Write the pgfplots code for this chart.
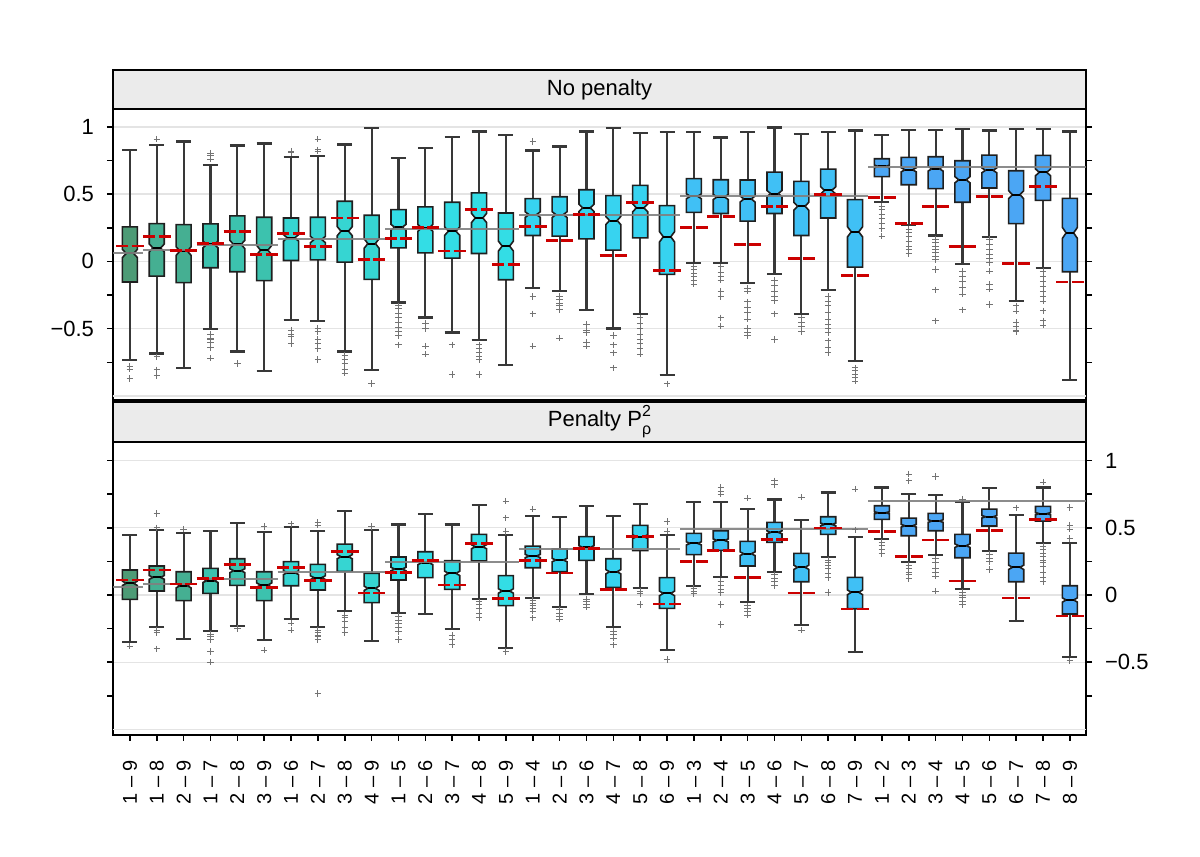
\documentclass[border=0pt]{standalone}
\usepackage{pgfplots}
\pgfplotsset{compat=1.18}
\usepgfplotslibrary{statistics}
\usepackage{fontspec}
\setmainfont{Liberation Sans}

\definecolor{c8}{HTML}{4D9B76}
\definecolor{c7}{HTML}{45AF92}
\definecolor{c6}{HTML}{3CC2AE}
\definecolor{c5}{HTML}{36D5D2}
\definecolor{c4}{HTML}{33DDE5}
\definecolor{c3}{HTML}{37D3F0}
\definecolor{c2}{HTML}{40C0F5}
\definecolor{c1}{HTML}{4BA6F4}
\definecolor{tred}{HTML}{CC0000}
\definecolor{gridc}{HTML}{E4E4E4}
\definecolor{stripc}{HTML}{EBEBEB}
\definecolor{gline}{HTML}{808080}

\pgfdeclareplotmark{tdash}{%
  \pgfpathmoveto{\pgfqpoint{-6.9pt}{0pt}}%
  \pgfpathlineto{\pgfqpoint{6.9pt}{0pt}}%
  \pgfusepathqstroke}

\pgfplotsset{
  boxplot/draw direction=y,
  boxplot/box extend=0.56,
  boxplot/whisker extend=0.56,
  boxplot/draw/box/.code={%
    \pgfmathsetmacro\qlo{\pgfplotsboxplotvalue{lower quartile}}%
    \pgfmathsetmacro\qhi{\pgfplotsboxplotvalue{upper quartile}}%
    \pgfmathsetmacro\qmed{\pgfplotsboxplotvalue{median}}%
    \pgfmathsetmacro\nlo{\qmed-0.075*(\qhi-\qlo)}%
    \pgfmathsetmacro\nhi{\qmed+0.075*(\qhi-\qlo)}%
    \filldraw[/pgfplots/boxplot/every box/.try]
      (boxplot box cs:\qlo,0) -- (boxplot box cs:\nlo,0) -- (boxplot box cs:\qmed,0.25)
      -- (boxplot box cs:\nhi,0) -- (boxplot box cs:\qhi,0) -- (boxplot box cs:\qhi,1)
      -- (boxplot box cs:\nhi,1) -- (boxplot box cs:\qmed,0.75) -- (boxplot box cs:\nlo,1)
      -- (boxplot box cs:\qlo,1) -- cycle;
  },
  boxplot/draw/median/.code={%
    \draw[/pgfplots/boxplot/every median/.try]
      (boxplot box cs:\pgfplotsboxplotvalue{median},0.25) --
      (boxplot box cs:\pgfplotsboxplotvalue{median},0.75);
  },
  bxs/.style={solid, draw=black!78, mark=+, mark size=1.6pt,
    mark options={draw=black!55, line width=0.45pt, solid},
    boxplot/every whisker/.style={line width=1.1pt, draw=black!78},
    boxplot/every box/.style={line width=0.8pt, draw=black!88},
    boxplot/every median/.style={line width=1pt, draw=black}},
  panel/.style={
    scale only axis, width=486.5pt,
    xmin=-0.63, xmax=35.6,
    axis line style={line width=1.3pt},
    tick align=outside, major tick length=3pt, minor tick length=3pt,
    every tick/.style={black, line width=0.8pt},
    ytick={-0.5,0,0.5,1}, yticklabels={−0.5,0,0.5,1},
    minor ytick={-0.75,-0.25,0.25,0.75},
    ytick pos=both,
    ymajorgrids, major grid style={gridc, line width=0.7pt},
    extra y ticks={-1}, extra y tick labels={},
    extra y tick style={major tick length=0pt, grid=major},
    yticklabel style={font=\fontsize{11}{13}\selectfont},
    clip=true,
  },
  glines/.style={gline, line width=1pt, opacity=0.9, forget plot},
  reds/.style={only marks, mark=tdash, color=tred,
    mark options={line width=1.4pt, dash pattern=on 6pt off 1.8pt}},
}

\newcommand{\bx}[8]{\addplot[bxs, fill=#2, boxplot prepared={draw position=#1,
  lower whisker=#3, lower quartile=#4, median=#5, upper quartile=#6, upper whisker=#7}]
  coordinates {#8};}

\begin{document}
\begin{tikzpicture}[x=1pt,y=1pt]
\path (0,0) rectangle (600,428.5);

% ---------------- top panel: No penalty ----------------
\begin{axis}[panel, at={(56.5pt,228.5pt)}, anchor=south west, height=145.5pt,
  ymin=-1.03, ymax=1.133, xtick=\empty, yticklabel pos=left,
  yticklabel style={xshift=-3pt}]
\bx{0}{c8}{-0.733}{-0.153}{0.059}{0.257}{0.83}{(0,-0.78)(0,-0.80)(0,-0.87)}
\bx{1}{c7}{-0.684}{-0.109}{0.10}{0.281}{0.867}{(0,0.909)(0,-0.71)(0,-0.805)(0,-0.85)}
\bx{2}{c7}{-0.793}{-0.158}{0.077}{0.274}{0.891}{}
\bx{3}{c6}{-0.504}{-0.047}{0.126}{0.279}{0.719}{(0,0.805)(0,0.785)(0,0.76)(0,-0.54)(0,-0.57)(0,-0.58)(0,-0.60)(0,-0.64)(0,-0.72)}
\bx{4}{c6}{-0.669}{-0.077}{0.126}{0.338}{0.862}{(0,-0.76)}
\bx{5}{c6}{-0.815}{-0.143}{0.084}{0.328}{0.877}{}
\bx{6}{c5}{-0.434}{0.007}{0.175}{0.323}{0.775}{(0,0.82)(0,0.81)(0,-0.51)(0,-0.54)(0,-0.56)(0,-0.61)}
\bx{7}{c5}{-0.442}{0.012}{0.163}{0.328}{0.785}{(0,0.91)(0,0.83)(0,0.82)(0,-0.50)(0,-0.52)(0,-0.58)(0,-0.61)(0,-0.65)(0,-0.73)}
\bx{8}{c5}{-0.669}{-0.005}{0.225}{0.447}{0.869}{(0,-0.70)(0,-0.73)(0,-0.76)(0,-0.80)(0,-0.83)}
\bx{9}{c5}{-0.807}{-0.133}{0.133}{0.343}{0.99}{(0,-0.906)}
\bx{10}{c4}{-0.306}{0.101}{0.254}{0.385}{0.768}{(0,-0.33)(0,-0.35)(0,-0.39)(0,-0.42)(0,-0.45)(0,-0.49)(0,-0.52)(0,-0.55)(0,-0.62)}
\bx{11}{c4}{-0.417}{0.064}{0.249}{0.405}{0.842}{(0,-0.46)(0,-0.50)(0,-0.63)(0,-0.69)}
\bx{12}{c4}{-0.528}{0.025}{0.225}{0.44}{0.923}{(0,-0.62)(0,-0.84)}
\bx{13}{c4}{-0.583}{0.059}{0.323}{0.509}{0.965}{(0,-0.62)(0,-0.65)(0,-0.68)(0,-0.71)(0,-0.73)(0,-0.84)}
\bx{14}{c4}{-0.770}{-0.136}{0.114}{0.36}{0.941}{}
\bx{15}{c3}{-0.195}{0.193}{0.348}{0.467}{0.825}{(0,0.89)(0,-0.26)(0,-0.39)(0,-0.63)}
\bx{16}{c3}{-0.22}{0.188}{0.348}{0.481}{0.854}{(0,-0.26)(0,-0.28)(0,-0.31)(0,-0.33)(0,-0.36)(0,-0.57)}
\bx{17}{c3}{-0.36}{0.168}{0.398}{0.533}{0.965}{(0,-0.47)(0,-0.51)(0,-0.53)(0,-0.60)(0,-0.63)}
\bx{18}{c3}{-0.499}{0.084}{0.304}{0.489}{0.99}{(0,-0.55)(0,-0.62)(0,-0.68)(0,-0.79)}
\bx{19}{c3}{-0.393}{0.175}{0.398}{0.565}{0.956}{(0,-0.42)(0,-0.46)(0,-0.50)(0,-0.54)(0,-0.58)(0,-0.61)(0,-0.65)(0,-0.69)}
\bx{20}{c3}{-0.844}{-0.096}{0.183}{0.415}{0.96}{(0,-0.91)}
\bx{21}{c2}{-0.01}{0.365}{0.484}{0.615}{0.963}{(0,-0.04)(0,-0.06)(0,-0.09)(0,-0.11)(0,-0.14)(0,-0.17)}
\bx{22}{c2}{-0.01}{0.356}{0.479}{0.607}{0.921}{(0,-0.04)(0,-0.08)(0,-0.11)(0,-0.14)(0,-0.22)(0,-0.26)(0,-0.42)(0,-0.48)}
\bx{23}{c2}{-0.158}{0.299}{0.464}{0.605}{0.96}{(0,-0.20)(0,-0.22)(0,-0.30)(0,-0.34)(0,-0.38)(0,-0.43)(0,-0.50)(0,-0.53)(0,-0.55)}
\bx{24}{c2}{-0.096}{0.356}{0.504}{0.664}{0.995}{(0,-0.14)(0,-0.18)(0,-0.22)(0,-0.26)(0,-0.29)(0,-0.39)(0,-0.58)}
\bx{25}{c2}{-0.388}{0.193}{0.41}{0.595}{0.948}{(0,-0.42)(0,-0.45)(0,-0.48)(0,-0.52)}
\bx{26}{c2}{-0.215}{0.323}{0.528}{0.686}{0.96}{(0,-0.26)(0,-0.30)(0,-0.33)(0,-0.38)(0,-0.43)(0,-0.47)(0,-0.50)(0,-0.53)(0,-0.59)(0,-0.64)(0,-0.68)}
\bx{27}{c2}{-0.743}{-0.042}{0.22}{0.459}{0.973}{(0,-0.79)(0,-0.81)(0,-0.84)(0,-0.86)(0,-0.89)}
\bx{28}{c1}{0.44}{0.63}{0.706}{0.763}{0.941}{(0,0.41)(0,0.385)(0,0.348)(0,0.316)(0,0.281)(0,0.242)(0,0.188)}
\bx{29}{c1}{0.272}{0.57}{0.681}{0.773}{0.978}{(0,0.237)(0,0.212)(0,0.188)(0,0.15)(0,0.114)(0,0.089)(0,0.057)}
\bx{30}{c1}{0.193}{0.541}{0.689}{0.778}{0.978}{(0,0.163)(0,0.138)(0,0.114)(0,0.089)(0,0.064)(0,0.04)(0,0.015)(0,-0.059)(0,-0.212)(0,-0.442)}
\bx{31}{c1}{-0.022}{0.44}{0.607}{0.748}{0.983}{(0,-0.072)(0,-0.109)(0,-0.146)(0,-0.195)(0,-0.244)(0,-0.36)}
\bx{32}{c1}{0.183}{0.546}{0.677}{0.79}{0.973}{(0,0.163)(0,0.126)(0,0.089)(0,0.052)(0,0.02)(0,-0.01)(0,-0.072)(0,-0.17)(0,-0.207)(0,-0.319)}
\bx{33}{c1}{-0.296}{0.281}{0.496}{0.674}{0.985}{(0,-0.33)(0,-0.37)(0,-0.45)(0,-0.48)(0,-0.51)(0,-0.52)}
\bx{34}{c1}{-0.049}{0.454}{0.662}{0.788}{0.985}{(0,-0.072)(0,-0.109)(0,-0.146)(0,-0.183)(0,-0.22)(0,-0.257)(0,-0.294)(0,-0.368)(0,-0.442)(0,-0.474)}
\bx{35}{c1}{-0.879}{-0.077}{0.212}{0.469}{0.965}{}
% group means
\addplot[glines] coordinates {(-0.63,0.059) (0.5,0.059)};
\addplot[glines] coordinates {(0.5,0.084) (2.5,0.084)};
\addplot[glines] coordinates {(2.5,0.121) (5.5,0.121)};
\addplot[glines] coordinates {(5.5,0.17) (9.5,0.17)};
\addplot[glines] coordinates {(9.5,0.242) (14.5,0.242)};
\addplot[glines] coordinates {(14.5,0.346) (20.5,0.346)};
\addplot[glines] coordinates {(20.5,0.489) (27.5,0.489)};
\addplot[glines] coordinates {(27.5,0.699) (35.6,0.699)};
% true values
\addplot[reds] coordinates {(0,0.114)(1,0.183)(2,0.084)(3,0.131)(4,0.225)(5,0.054)(6,0.207)(7,0.109)(8,0.323)(9,0.015)
(10,0.168)(11,0.254)(12,0.077)(13,0.383)(14,-0.022)(15,0.259)(16,0.158)(17,0.348)(18,0.044)(19,0.435)(20,-0.069)
(21,0.254)(22,0.331)(23,0.126)(24,0.41)(25,0.02)(26,0.496)(27,-0.104)
(28,0.474)(29,0.284)(30,0.41)(31,0.109)(32,0.481)(33,-0.017)(34,0.558)(35,-0.153)};
\end{axis}

% ---------------- bottom panel: Penalty ----------------
\begin{axis}[panel, at={(56.5pt,61pt)}, anchor=south west, height=146.5pt,
  ymin=-1.041, ymax=1.138, yticklabel pos=right,
  yticklabel style={xshift=3pt},
  xtick={0,...,35}, xtick pos=left,
  xticklabels={1 – 9,1 – 8,2 – 9,1 – 7,2 – 8,3 – 9,1 – 6,2 – 7,3 – 8,4 – 9,1 – 5,2 – 6,3 – 7,4 – 8,5 – 9,1 – 4,2 – 5,3 – 6,4 – 7,5 – 8,6 – 9,1 – 3,2 – 4,3 – 5,4 – 6,5 – 7,6 – 8,7 – 9,1 – 2,2 – 3,3 – 4,4 – 5,5 – 6,6 – 7,7 – 8,8 – 9},
  xticklabel style={rotate=90, anchor=east, font=\fontsize{10}{12}\selectfont, xshift=-6pt}]
\bx{0}{c8}{-0.347}{-0.032}{0.087}{0.186}{0.446}{(0,-0.38)}
\bx{1}{c7}{-0.238}{0.030}{0.131}{0.216}{0.483}{(0,0.607)(0,0.50)(0,-0.26)(0,-0.28)(0,-0.40)}
\bx{2}{c7}{-0.327}{-0.042}{0.069}{0.173}{0.463}{(0,0.49)}
\bx{3}{c6}{-0.265}{0.012}{0.107}{0.198}{0.476}{(0,-0.29)(0,-0.31)(0,-0.33)(0,-0.42)(0,-0.50)}
\bx{4}{c6}{-0.228}{0.072}{0.181}{0.27}{0.535}{(0,-0.25)}
\bx{5}{c6}{-0.332}{-0.042}{0.074}{0.173}{0.466}{(0,0.51)(0,-0.41)}
\bx{6}{c5}{-0.181}{0.069}{0.166}{0.248}{0.508}{(0,0.53)(0,-0.21)(0,-0.26)}
\bx{7}{c5}{-0.238}{0.037}{0.129}{0.228}{0.476}{(0,0.54)(0,0.52)(0,-0.26)(0,-0.28)(0,-0.30)(0,-0.31)(0,-0.33)(0,-0.731)}
\bx{8}{c5}{-0.117}{0.176}{0.285}{0.379}{0.625}{(0,-0.15)(0,-0.17)(0,-0.20)(0,-0.24)(0,-0.28)}
\bx{9}{c5}{-0.342}{-0.057}{0.05}{0.161}{0.481}{(0,0.51)}
\bx{10}{c4}{-0.134}{0.112}{0.193}{0.283}{0.525}{(0,-0.16)(0,-0.19)(0,-0.21)(0,-0.24)(0,-0.27)(0,-0.33)}
\bx{11}{c4}{-0.139}{0.129}{0.24}{0.322}{0.602}{}
\bx{12}{c4}{-0.255}{0.042}{0.161}{0.255}{0.525}{(0,-0.30)(0,-0.33)(0,-0.37)}
\bx{13}{c4}{-0.03}{0.253}{0.359}{0.451}{0.669}{(0,-0.05)(0,-0.07)(0,-0.10)(0,-0.14)(0,-0.17)}
\bx{14}{c4}{-0.392}{-0.079}{0.03}{0.144}{0.446}{(0,0.699)(0,0.574)(0,0.473)(0,-0.42)}
\bx{15}{c3}{-0.025}{0.203}{0.29}{0.364}{0.59}{(0,0.64)(0,-0.04)(0,-0.06)(0,-0.08)(0,-0.10)(0,-0.12)(0,-0.17)}
\bx{16}{c3}{-0.089}{0.173}{0.26}{0.342}{0.58}{(0,-0.11)(0,-0.14)(0,-0.16)(0,-0.18)}
\bx{17}{c3}{0.005}{0.258}{0.354}{0.434}{0.664}{(0,-0.03)(0,-0.05)(0,-0.07)(0,-0.09)}
\bx{18}{c3}{-0.238}{0.057}{0.173}{0.27}{0.587}{(0,-0.27)(0,-0.29)(0,-0.32)(0,-0.37)}
\bx{19}{c3}{0.054}{0.33}{0.434}{0.518}{0.679}{(0,0.03)(0,0.01)(0,-0.07)}
\bx{20}{c3}{-0.409}{-0.099}{0.012}{0.129}{0.446}{(0,0.546)(0,0.476)(0,-0.48)}
\bx{21}{c2}{0.069}{0.30}{0.384}{0.458}{0.689}{(0,0.05)(0,0.03)(0,0.01)}
\bx{22}{c2}{0.134}{0.332}{0.406}{0.478}{0.694}{(0,0.80)(0,0.77)(0,0.75)(0,0.10)(0,0.07)(0,0.04)(0,0.02)(0,-0.07)(0,-0.22)}
\bx{23}{c2}{-0.054}{0.216}{0.307}{0.399}{0.639}{(0,0.72)(0,-0.08)(0,-0.10)(0,-0.12)(0,-0.15)}
\bx{24}{c2}{0.171}{0.392}{0.466}{0.54}{0.711}{(0,0.85)(0,0.82)(0,0.15)(0,0.12)(0,0.10)(0,0.07)}
\bx{25}{c2}{-0.223}{0.099}{0.206}{0.31}{0.558}{(0,0.727)(0,-0.26)}
\bx{26}{c2}{0.283}{0.451}{0.525}{0.582}{0.763}{(0,0.26)(0,0.24)(0,0.22)(0,0.20)(0,0.16)(0,0.13)(0,0.02)}
\bx{27}{c2}{-0.421}{-0.102}{0.02}{0.131}{0.434}{(0,0.788)(0,0.485)}
\bx{28}{c1}{0.416}{0.563}{0.612}{0.664}{0.80}{(0,0.39)(0,0.37)(0,0.34)(0,0.31)}
\bx{29}{c1}{0.243}{0.441}{0.515}{0.572}{0.749}{(0,0.90)(0,0.85)(0,0.22)(0,0.20)(0,0.17)(0,0.15)(0,0.12)}
\bx{30}{c1}{0.297}{0.478}{0.55}{0.607}{0.743}{(0,0.882)(0,0.27)(0,0.24)(0,0.20)(0,0.17)(0,0.14)(0,0.03)}
\bx{31}{c1}{0.045}{0.277}{0.367}{0.451}{0.694}{(0,0.714)(0,0.02)(0,0.0)(0,-0.02)(0,-0.05)(0,-0.07)}
\bx{32}{c1}{0.327}{0.513}{0.582}{0.639}{0.793}{(0,0.30)(0,0.27)(0,0.25)(0,0.19)}
\bx{33}{c1}{-0.193}{0.099}{0.206}{0.312}{0.595}{(0,0.648)}
\bx{34}{c1}{0.387}{0.55}{0.605}{0.659}{0.80}{(0,0.84)(0,0.36)(0,0.34)(0,0.31)(0,0.29)(0,0.26)(0,0.24)(0,0.21)(0,0.17)(0,0.13)(0,0.10)}
\bx{35}{c1}{-0.459}{-0.141}{-0.037}{0.069}{0.384}{(0,0.65)(0,0.52)(0,0.49)(0,0.42)(0,-0.49)}
% group means
\addplot[glines] coordinates {(-0.63,0.057) (0.5,0.057)};
\addplot[glines] coordinates {(0.5,0.082) (2.5,0.082)};
\addplot[glines] coordinates {(2.5,0.119) (5.5,0.119)};
\addplot[glines] coordinates {(5.5,0.171) (9.5,0.171)};
\addplot[glines] coordinates {(9.5,0.243) (14.5,0.243)};
\addplot[glines] coordinates {(14.5,0.342) (20.5,0.342)};
\addplot[glines] coordinates {(20.5,0.491) (27.5,0.491)};
\addplot[glines] coordinates {(27.5,0.701) (35.6,0.701)};
% true values
\addplot[reds] coordinates {(0,0.112)(1,0.186)(2,0.082)(3,0.124)(4,0.228)(5,0.054)(6,0.206)(7,0.107)(8,0.325)(9,0.015)
(10,0.166)(11,0.258)(12,0.074)(13,0.381)(14,-0.025)(15,0.258)(16,0.164)(17,0.347)(18,0.042)(19,0.438)(20,-0.067)
(21,0.25)(22,0.332)(23,0.129)(24,0.411)(25,0.015)(26,0.498)(27,-0.104)
(28,0.471)(29,0.288)(30,0.409)(31,0.104)(32,0.481)(33,-0.022)(34,0.56)(35,-0.156)};
\end{axis}

% strips
\draw[fill=stripc, line width=1.3pt] (56.5,374) rectangle (543,393.5);
\node[font=\fontsize{11}{13}\selectfont] at (299.75,383.75) {No penalty};
\draw[fill=stripc, line width=1.3pt] (56.5,207.5) rectangle (543,227.5);
\node[font=\fontsize{11}{13}\selectfont] at (299.75,217.5) {Penalty P\rlap{\raisebox{5pt}{\fontsize{8}{9}\selectfont 2}}\raisebox{-4pt}{\fontsize{8}{9}\selectfont ρ}};
\end{tikzpicture}
\end{document}
